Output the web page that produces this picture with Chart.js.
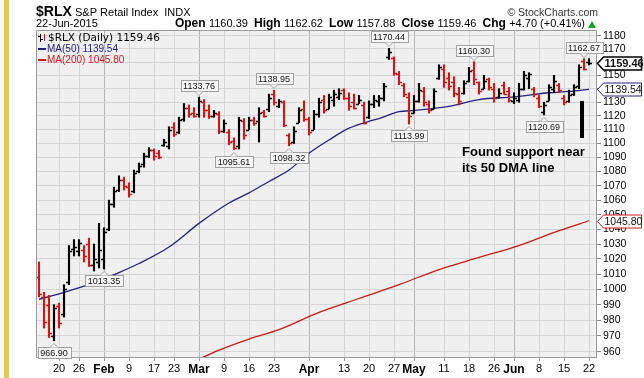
<!DOCTYPE html>
<html>
<head>
<meta charset="utf-8">
<script src="https://cdn.jsdelivr.net/npm/chart.js@4.4.0/dist/chart.umd.min.js"></script>
<style>
  html, body { margin: 0; padding: 0; background: #fff; }
  canvas { display: block; }
</style>
</head>
<body>
<canvas id="rlx" width="644" height="378"></canvas>
<script>
// $RLX daily bars, 13-Jan-2015 .. 22-Jun-2015
const dates = [
  '2015-01-13','2015-01-14','2015-01-15','2015-01-16','2015-01-20','2015-01-21','2015-01-22','2015-01-23','2015-01-26','2015-01-27','2015-01-28','2015-01-29','2015-01-30',
  '2015-02-02','2015-02-03','2015-02-04','2015-02-05','2015-02-06','2015-02-09','2015-02-10','2015-02-11','2015-02-12','2015-02-13','2015-02-17','2015-02-18','2015-02-19','2015-02-20','2015-02-23','2015-02-24','2015-02-25','2015-02-26','2015-02-27',
  '2015-03-02','2015-03-03','2015-03-04','2015-03-05','2015-03-06','2015-03-09','2015-03-10','2015-03-11','2015-03-12','2015-03-13','2015-03-16','2015-03-17','2015-03-18','2015-03-19','2015-03-20','2015-03-23','2015-03-24','2015-03-25','2015-03-26','2015-03-27','2015-03-30','2015-03-31',
  '2015-04-01','2015-04-02','2015-04-06','2015-04-07','2015-04-08','2015-04-09','2015-04-10','2015-04-13','2015-04-14','2015-04-15','2015-04-16','2015-04-17','2015-04-20','2015-04-21','2015-04-22','2015-04-23','2015-04-24','2015-04-27','2015-04-28','2015-04-29','2015-04-30',
  '2015-05-01','2015-05-04','2015-05-05','2015-05-06','2015-05-07','2015-05-08','2015-05-11','2015-05-12','2015-05-13','2015-05-14','2015-05-15','2015-05-18','2015-05-19','2015-05-20','2015-05-21','2015-05-22','2015-05-26','2015-05-27','2015-05-28','2015-05-29',
  '2015-06-01','2015-06-02','2015-06-03','2015-06-04','2015-06-05','2015-06-08','2015-06-09','2015-06-10','2015-06-11','2015-06-12','2015-06-15','2015-06-16','2015-06-17','2015-06-18','2015-06-19','2015-06-22'
];

const opens = [
  1008, 995, 990, 970, 989, 984, 1005, 1027, 1025, 1026, 1030, 1016, 1018,
  1020, 1040, 1057, 1067, 1074, 1069, 1066, 1080, 1085, 1091, 1095, 1093, 1099, 1098, 1112, 1108, 1118, 1126, 1122,
  1121, 1130, 1124, 1120, 1121, 1109, 1108, 1102, 1098, 1116, 1110, 1117, 1116, 1123, 1125, 1136, 1127, 1130, 1106, 1101, 1115, 1125,
  1118, 1110, 1121, 1132, 1125, 1132, 1134, 1139, 1133, 1130, 1129, 1128, 1119, 1129, 1131, 1133, 1164, 1163, 1151, 1143, 1134,
  1122, 1131, 1138, 1129, 1125, 1148, 1155, 1148, 1145, 1136, 1137, 1146, 1154, 1145, 1140, 1147, 1140, 1134, 1143, 1138,
  1131, 1132, 1140, 1148, 1140, 1133, 1123, 1131, 1140, 1143, 1133, 1131, 1136, 1142, 1161, 1160.39
];
const highs = [
  1018, 998, 996, 990, 991, 1003, 1029, 1033, 1033, 1029, 1034, 1030, 1044,
  1041, 1060, 1069, 1077, 1076, 1072, 1081, 1086, 1093, 1097, 1096, 1095, 1103, 1112, 1115, 1119, 1129, 1128, 1126,
  1133.76, 1132, 1128, 1124, 1123, 1117, 1110, 1104, 1119, 1118, 1119, 1119, 1126, 1124, 1136, 1138.95, 1132, 1131, 1107, 1112, 1126, 1131,
  1119, 1124, 1133, 1135, 1136, 1139, 1140, 1140, 1137, 1136, 1135, 1130, 1131, 1135, 1135, 1144, 1170.44, 1164, 1153, 1144, 1137,
  1135, 1144, 1141, 1131, 1140, 1158, 1158, 1152, 1149, 1141, 1146, 1156, 1160.30, 1145, 1150, 1148, 1144, 1140, 1145, 1141,
  1137, 1144, 1153, 1152, 1141, 1135, 1130, 1143, 1150, 1144, 1135, 1139, 1143, 1158, 1162.67, 1162.62
];
const lows = [
  995, 975, 969, 966.90, 975, 982, 1003, 1022, 1022, 1018, 1015, 1012, 1014,
  1013.35, 1039, 1055, 1066, 1067, 1062, 1065, 1079, 1083, 1090, 1088, 1089, 1098, 1096, 1105, 1107, 1116, 1119, 1119,
  1119, 1119, 1118, 1119, 1107, 1108, 1099, 1095.61, 1096, 1103, 1110, 1113, 1101, 1119, 1123, 1128, 1126, 1112, 1098.32, 1100, 1115, 1116,
  1106, 1110, 1119, 1122, 1125, 1127, 1132, 1132, 1124, 1125, 1129, 1114, 1118, 1126, 1127, 1131, 1162, 1150, 1143, 1134, 1113.99,
  1122, 1130, 1127, 1122, 1125, 1147, 1141, 1139, 1134, 1128, 1136, 1145, 1143, 1136, 1140, 1139, 1130, 1133, 1136, 1130,
  1129, 1130, 1139, 1140, 1134, 1126, 1120.69, 1131, 1137, 1137, 1128, 1130, 1135, 1140, 1154, 1157.88
];
const closes = [
  997, 979, 972, 988, 978, 1000, 1025, 1028, 1031, 1022, 1016, 1020, 1026,
  1038, 1057, 1066, 1074, 1070, 1064, 1079, 1084, 1091, 1095, 1091, 1090, 1101, 1110, 1107, 1117, 1126, 1121, 1120,
  1131, 1124, 1120, 1122, 1109, 1115, 1101, 1097, 1117, 1106, 1117, 1115, 1122, 1120, 1133, 1130, 1131, 1113, 1100, 1109, 1124, 1118,
  1108, 1121, 1130, 1124, 1134, 1136, 1137, 1133, 1127, 1126, 1132, 1115, 1129, 1132, 1133, 1142, 1168, 1152, 1145, 1136, 1120,
  1131, 1139, 1130, 1124, 1138, 1156, 1145, 1142, 1137, 1131, 1144, 1153, 1147, 1138, 1146, 1141, 1133, 1137, 1136, 1132,
  1133, 1140, 1150, 1151, 1136, 1127, 1128, 1141, 1146, 1139, 1130, 1135, 1141, 1156, 1154.76, 1159.46
];

// moving averages
const ma50Dates = ['2015-01-13','2015-01-20','2015-01-27','2015-02-02','2015-02-05','2015-02-11','2015-02-20','2015-03-02','2015-03-10','2015-03-16','2015-03-20','2015-03-26','2015-04-01','2015-04-08','2015-04-14','2015-04-20','2015-04-22','2015-04-28','2015-05-01','2015-05-12','2015-05-20','2015-06-01','2015-06-10','2015-06-16','2015-06-22'];
const ma50 = [993.5, 997, 1002, 1007, 1011, 1017, 1028, 1044, 1058, 1065, 1073, 1081, 1093, 1102.5, 1111, 1116, 1118, 1123, 1124, 1127, 1132, 1134, 1137, 1138, 1139.54];
const ma200Dates = ['2015-02-27','2015-03-06','2015-03-16','2015-03-24','2015-04-06','2015-04-16','2015-04-28','2015-05-08','2015-05-20','2015-06-02','2015-06-12','2015-06-22'];
const ma200 = [954, 961, 968, 974, 985, 994, 1003, 1013, 1021, 1029, 1039, 1045.80];

// axes
const yTicks = [960, 970, 980, 990, 1000, 1010, 1020, 1030, 1040, 1050, 1060, 1070, 1080, 1090, 1100, 1110, 1120, 1130, 1140, 1150, 1160, 1170, 1180];
const xTickDates = ['2015-01-20','2015-01-26','2015-02-02','2015-02-09','2015-02-17','2015-02-23','2015-03-02','2015-03-09','2015-03-16','2015-03-23','2015-04-01','2015-04-13','2015-04-20','2015-04-27','2015-05-01','2015-05-11','2015-05-18','2015-05-26','2015-06-01','2015-06-08','2015-06-15','2015-06-22'];
const xTickLabels = ['20','26','Feb','9','17','23','Mar','9','16','23','Apr','13','20','27','May','11','18','26','Jun','8','15','22'];

// price call-outs
const noteDates = ['2015-01-16','2015-02-02','2015-03-02','2015-03-11','2015-03-23','2015-03-26','2015-04-24','2015-04-30','2015-05-19','2015-06-09','2015-06-19'];
const noteSides = ['low','low','high','low','high','low','high','low','high','low','high'];

const FONT = "'Liberation Sans', Arial, sans-serif";
const RED = '#cc1a1a';
const NAVY = '#23237e';
const months = ['Feb', 'Mar', 'Apr', 'May', 'Jun'];
const last = dates.length - 1;

const barColors = closes.map((c, i) => {
  const prev = i === 0 ? opens[0] : closes[i - 1];
  return c < prev ? RED : '#000';
});
const idx = d => dates.indexOf(d);

function label(ctx, s, x, y, font, color, align) {
  ctx.font = font;
  ctx.fillStyle = color;
  ctx.textAlign = align || 'left';
  ctx.textBaseline = 'middle';
  ctx.fillText(s, x, y);
}

const frame = {
  id: 'frame',
  beforeDraw(chart) {
    const { ctx, chartArea: a } = chart;
    ctx.save();
    ctx.fillStyle = '#fff';
    ctx.fillRect(0, 0, chart.width, chart.height);
    ctx.fillStyle = '#f0f0f0';
    ctx.fillRect(a.left, a.top, a.right - a.left, a.bottom - a.top);
    ctx.restore();
  },
  afterDatasetsDraw(chart) {
    // open / close ticks
    const { ctx, chartArea: a, scales: { x, y } } = chart;
    ctx.save();
    ctx.beginPath();
    ctx.rect(a.left, a.top, a.right - a.left, a.bottom - a.top);
    ctx.clip();
    ctx.lineWidth = 1.3;
    dates.forEach((d, i) => {
      const px = x.getPixelForValue(i);
      const yo = Math.round(y.getPixelForValue(opens[i])) + 0.5;
      const yc = Math.round(y.getPixelForValue(closes[i])) + 0.5;
      ctx.strokeStyle = barColors[i];
      ctx.beginPath();
      ctx.moveTo(px - 3, yo); ctx.lineTo(px, yo);
      ctx.moveTo(px, yc); ctx.lineTo(px + 3, yc);
      ctx.stroke();
    });
    ctx.restore();
  },
  afterDraw(chart) {
    const { ctx, chartArea: a, scales: { x, y } } = chart;
    ctx.save();
    ctx.strokeStyle = '#9a9a9a';
    ctx.lineWidth = 1;
    ctx.strokeRect(a.left + 0.5, a.top + 0.5, a.right - a.left - 1, a.bottom - a.top - 1);

    // left strip
    ctx.fillStyle = '#e8c35e';
    ctx.fillRect(4, 0, 5, chart.height);

    // header
    label(ctx, '$RLX', 36, 12, 'bold 14px ' + FONT, '#000');
    label(ctx, 'S&P Retail Index  INDX', 75, 13, '11px ' + FONT, '#000');
    label(ctx, '\u00A9 StockCharts.com', 598, 13, '10.5px ' + FONT, '#333', 'right');
    label(ctx, '22-Jun-2015', 36, 24, '11px ' + FONT, '#000');

    const chg = closes[last] - closes[last - 1];
    const pct = chg / closes[last - 1] * 100;
    const sign = v => (v >= 0 ? '+' : '') + v.toFixed(2);
    const parts = [
      ['Open ', true], [opens[last].toFixed(2) + '  ', false],
      ['High ', true], [highs[last].toFixed(2) + '  ', false],
      ['Low ', true], [lows[last].toFixed(2) + '  ', false],
      ['Close ', true], [closes[last].toFixed(2) + '  ', false],
      ['Chg ', true], [sign(chg) + ' (' + sign(pct) + '%)', false]
    ];
    const fB = 'bold 12px ' + FONT, fN = '11px ' + FONT;
    let total = 0;
    parts.forEach(p => { ctx.font = p[1] ? fB : fN; total += ctx.measureText(p[0]).width; });
    let cx = 585 - total;
    parts.forEach(p => {
      const f = p[1] ? fB : fN;
      label(ctx, p[0], cx, 24, f, '#000');
      ctx.font = f;
      cx += ctx.measureText(p[0]).width;
    });
    ctx.fillStyle = '#1e9e2e';
    ctx.beginPath();
    ctx.moveTo(588, 28); ctx.lineTo(596, 28); ctx.lineTo(592, 21); ctx.closePath();
    ctx.fill();

    // in-plot legend
    ctx.lineWidth = 1;
    ctx.strokeStyle = '#000';
    ctx.beginPath();
    ctx.moveTo(40.5, 34); ctx.lineTo(40.5, 42);
    ctx.moveTo(38, 36.5); ctx.lineTo(40.5, 36.5);
    ctx.moveTo(40.5, 39.5); ctx.lineTo(43, 39.5);
    ctx.stroke();
    ctx.strokeStyle = RED;
    ctx.beginPath();
    ctx.moveTo(44.5, 34); ctx.lineTo(44.5, 41);
    ctx.stroke();
    label(ctx, '$RLX (Daily) ' + closes[last].toFixed(2), 48, 38, '10.5px "DejaVu Sans", ' + FONT, '#000');
    ctx.fillStyle = NAVY;
    ctx.fillRect(38, 48, 8, 2);
    label(ctx, 'MA(50) ' + ma50[ma50.length - 1].toFixed(2), 47, 49, '10px ' + FONT, NAVY);
    ctx.fillStyle = RED;
    ctx.fillRect(38, 59, 8, 2);
    label(ctx, 'MA(200) ' + ma200[ma200.length - 1].toFixed(2), 47, 60, '10px ' + FONT, RED);

    // price call-outs
    noteDates.forEach((d, k) => {
      const i = idx(d);
      const up = noteSides[k] === 'high';
      const v = up ? highs[i] : lows[i];
      const px = x.getPixelForValue(i);
      const py = y.getPixelForValue(v);
      const s = v.toFixed(2);
      ctx.font = '9px ' + FONT;
      const w = Math.round(ctx.measureText(s).width) + 5, h = 11;
      const bx = Math.round(px - w / 2) + 0.5;
      const by = up ? Math.round(py - 6 - h) + 0.5 : Math.round(py + 6) + 0.5;
      ctx.fillStyle = '#f6f6f6';
      ctx.strokeStyle = '#a0a0a0';
      ctx.fillRect(bx, by, w, h);
      ctx.strokeRect(bx, by, w, h);
      ctx.beginPath();
      if (up) { ctx.moveTo(px - 4, by + h); ctx.lineTo(px, by + h + 4); ctx.lineTo(px + 4, by + h); }
      else { ctx.moveTo(px - 4, by); ctx.lineTo(px, by - 4); ctx.lineTo(px + 4, by); }
      ctx.fill();
      ctx.stroke();
      label(ctx, s, px, by + h / 2 + 0.5, '9px ' + FONT, '#111', 'center');
    });

    // comment
    label(ctx, 'Found support near', 462, 152, 'bold 13px ' + FONT, '#000');
    label(ctx, 'its 50 DMA line', 462, 168, 'bold 13px ' + FONT, '#000');
    ctx.fillStyle = '#000';
    ctx.fillRect(580, 101, 4, 37);

    // axis value flags
    const flags = [
      [closes[last], '#000', true],
      [ma50[ma50.length - 1], NAVY, false],
      [ma200[ma200.length - 1], RED, false]
    ];
    flags.forEach(([v, col, bold]) => {
      const fy = Math.round(y.getPixelForValue(v)) + 0.5;
      const l = a.right + 0.5, r = 641.5;
      ctx.fillStyle = '#fff';
      ctx.strokeStyle = col;
      ctx.lineWidth = bold ? 1.6 : 1;
      ctx.beginPath();
      ctx.moveTo(l, fy); ctx.lineTo(l + 6, fy - 6.5); ctx.lineTo(r, fy - 6.5);
      ctx.lineTo(r, fy + 6.5); ctx.lineTo(l + 6, fy + 6.5); ctx.closePath();
      ctx.fill();
      ctx.stroke();
      label(ctx, v.toFixed(2), l + 7, fy + 0.5, (bold ? 'bold 11px ' : '10.5px ') + FONT, '#111');
    });
    ctx.restore();
  }
};

new Chart(document.getElementById('rlx'), {
  type: 'line',
  data: {
    datasets: [
      {
        type: 'bar',
        data: dates.map((d, i) => ({ x: i, y: [lows[i], highs[i]] })),
        backgroundColor: barColors,
        barThickness: 1.5,
        borderWidth: 0,
        grouped: false,
        order: 1
      },
      {
        type: 'line',
        data: ma50Dates.map((d, i) => ({ x: idx(d), y: ma50[i] })),
        borderColor: NAVY,
        borderWidth: 1.3,
        pointRadius: 0,
        cubicInterpolationMode: 'monotone',
        order: 2
      },
      {
        type: 'line',
        data: ma200Dates.map((d, i) => ({ x: idx(d), y: ma200[i] })),
        borderColor: RED,
        borderWidth: 1.3,
        pointRadius: 0,
        cubicInterpolationMode: 'monotone',
        order: 3
      }
    ]
  },
  options: {
    responsive: false,
    devicePixelRatio: 1,
    animation: false,
    layout: { padding: { left: 36, top: 30, right: 0, bottom: 0 } },
    plugins: { legend: { display: false }, tooltip: { enabled: false } },
    scales: {
      x: {
        type: 'linear',
        offset: false,
        min: -0.6,
        max: last + 1.6,
        afterBuildTicks: s => { s.ticks = xTickDates.map(d => ({ value: idx(d) })); },
        afterFit: s => { s.height = 20; },
        grid: {
          offset: false,
          color: c => (c.tick && months.includes(xTickLabels[xTickDates.map(idx).indexOf(c.tick.value)])) ? '#b4b4b4' : '#d6d6d6',
          tickColor: '#999',
          tickLength: 3
        },
        border: { display: false },
        ticks: {
          autoSkip: false,
          maxRotation: 0,
          padding: 1,
          color: '#000',
          font: c => {
            const lab = xTickLabels[xTickDates.map(idx).indexOf(c.tick ? c.tick.value : -1)];
            return { family: FONT, size: months.includes(lab) ? 12 : 11, weight: months.includes(lab) ? 'bold' : 'normal' };
          },
          callback: v => {
            const k = xTickDates.map(idx).indexOf(v);
            return k >= 0 ? xTickLabels[k] : '';
          }
        }
      },
      y: {
        type: 'logarithmic',
        position: 'right',
        min: 956.1,
        max: 1184.6,
        afterBuildTicks: s => { s.ticks = yTicks.map(v => ({ value: v })); },
        afterFit: s => { s.width = 47; },
        grid: { color: '#d6d6d6', tickColor: '#888', tickLength: 4 },
        border: { display: false },
        ticks: {
          autoSkip: false,
          padding: 2,
          color: '#000',
          font: { family: FONT, size: 10.5 },
          callback: v => String(v)
        }
      }
    }
  },
  plugins: [frame]
});
</script>
</body>
</html>
